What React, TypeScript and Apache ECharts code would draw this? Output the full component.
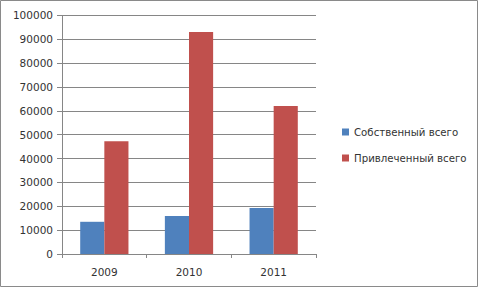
import React, { useEffect, useRef } from "react";
import * as echarts from "echarts";

const years = ["2009", "2010", "2011"];
const ownTotal = [13500, 15900, 19300];
const borrowedTotal = [47300, 93000, 62000];
const seriesNames = ["Собственный всего", "Привлеченный всего"];

export default function App() {
  const ref = useRef<HTMLDivElement>(null);
  useEffect(() => {
    if (!ref.current) return;
    const chart = echarts.init(ref.current, null, { renderer: "svg" });
    const font = "DejaVu Sans";
    chart.setOption({
      animation: false,
      backgroundColor: "#ffffff",
      graphic: [
        {
          type: "rect",
          shape: { x: 0.5, y: 0.5, width: 477, height: 286 },
          style: { fill: "none", stroke: "#8a8a8a", lineWidth: 1 },
          silent: true,
        },
      ],
      grid: { left: 62, top: 15.4, right: 165, bottom: 35 },
      legend: {
        orient: "vertical",
        left: 337,
        top: 122,
        itemWidth: 7,
        itemHeight: 7,
        itemGap: 16,
        icon: "rect",
        textStyle: { fontFamily: font, fontSize: 10.2, color: "#333" },
        data: seriesNames,
      },
      xAxis: {
        type: "category",
        data: years,
        axisLine: { show: false },
        axisTick: { show: true, alignWithLabel: false, length: 4, lineStyle: { color: "#868686" } },
        axisLabel: { margin: 12, fontFamily: font, fontSize: 10.5, color: "#333" },
        splitLine: { show: false },
      },
      yAxis: {
        type: "value",
        min: 0,
        max: 100000,
        interval: 10000,
        axisLine: { show: true, lineStyle: { color: "#868686" } },
        axisTick: { show: true, length: 5, lineStyle: { color: "#868686" } },
        axisLabel: {
          margin: 9,
          fontFamily: font,
          fontSize: 10.5,
          color: "#333",
          formatter: (v: number) => String(v),
        },
        splitLine: { show: true, lineStyle: { color: "#868686", width: 1 } },
      },
      series: [
        {
          name: seriesNames[0],
          type: "bar",
          data: ownTotal,
          itemStyle: { color: "#4F81BD" },
          barGap: "0%",
          barCategoryGap: "43%",
        },
        {
          name: seriesNames[1],
          type: "bar",
          data: borrowedTotal,
          itemStyle: { color: "#C0504D" },
          barGap: "0%",
          barCategoryGap: "43%",
        },
      ],
    });
    return () => chart.dispose();
  }, []);
  return (
    <div
      ref={ref}
      style={{ position: "fixed", left: 0, top: 0, width: 481, height: 289 }}
    />
  );
}
